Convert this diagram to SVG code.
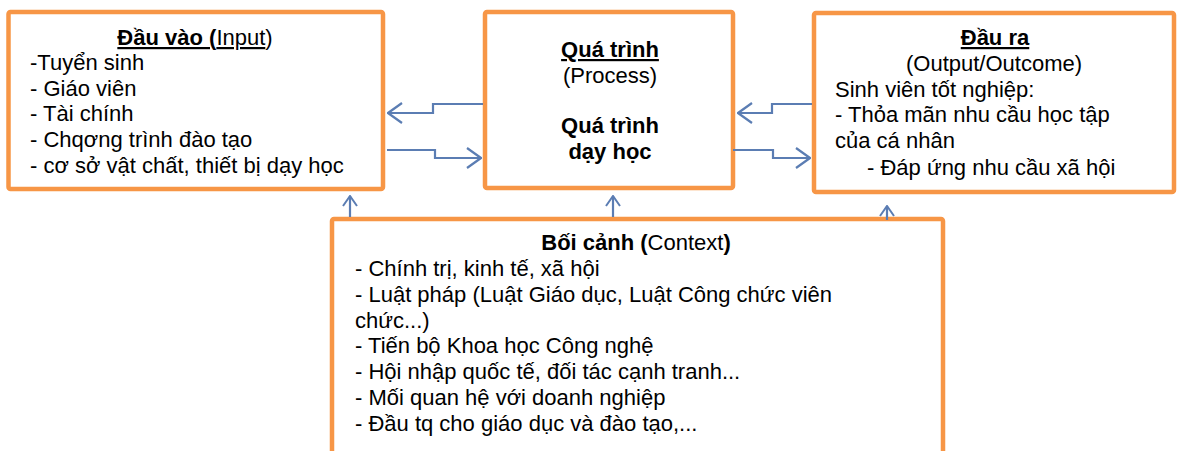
<svg xmlns="http://www.w3.org/2000/svg" width="1177" height="451" viewBox="0 0 1177 451">
<defs>
<style>
.box{fill:#fff;stroke:#F79646;stroke-width:4.5}
.t{font-family:"Liberation Sans",Arial,sans-serif;font-size:22px;fill:#000}
.b{font-weight:bold}
.u{text-decoration:underline}
.c{text-anchor:middle}
.con{fill:none;stroke:#5B7DB3;stroke-width:2.2}
</style>
<marker id="ah" viewBox="0 0 16 22" refX="15" refY="11" markerWidth="16" markerHeight="22" markerUnits="userSpaceOnUse" orient="auto">
<path d="M1,1 L15,11 L1,21" fill="none" stroke="#5B7DB3" stroke-width="2.2"/>
</marker>
<marker id="ahs" viewBox="0 0 12 16" refX="11" refY="8" markerWidth="12" markerHeight="16" markerUnits="userSpaceOnUse" orient="auto">
<path d="M1,1 L11,8 L1,15" fill="none" stroke="#5B7DB3" stroke-width="2"/>
</marker>
</defs>

<g id="input">
<rect class="box" x="8.5" y="12" width="374.5" height="177" rx="2"/>
<text class="t c" x="195" y="45"><tspan class="b u">Đầu vào (</tspan><tspan class="u">Input</tspan>)</text>
<text class="t" x="30" y="70">-Tuyển sinh</text>
<text class="t" x="30" y="96">- Giáo viên</text>
<text class="t" x="30" y="121">- Tài chính</text>
<text class="t" x="30" y="147">- Chqơng trình đào tạo</text>
<text class="t" x="30" y="173">- cơ sở vật chất, thiết bị dạy học</text>
</g>

<g id="process">
<rect class="box" x="485" y="12" width="248" height="176" rx="2"/>
<text class="t b u c" x="610" y="57">Quá trình</text>
<text class="t c" x="610" y="83">(Process)</text>
<text class="t b c" x="610" y="133">Quá trình</text>
<text class="t b c" x="610" y="159">dạy học</text>
</g>

<g id="output">
<rect class="box" x="814" y="13" width="360" height="179" rx="2"/>
<text class="t b u c" x="995" y="45">Đầu ra</text>
<text class="t c" x="994" y="71">(Output/Outcome)</text>
<text class="t" x="835" y="97">Sinh viên tốt nghiệp:</text>
<text class="t" x="835" y="122">- Thỏa mãn nhu cầu học tập</text>
<text class="t" x="835" y="148">của cá nhân</text>
<text class="t" x="867" y="175">- Đáp ứng nhu cầu xã hội</text>
</g>

<g id="context">
<rect class="box" x="332" y="219" width="611" height="260" rx="2"/>
<text class="t c" x="636" y="250"><tspan class="b">Bối cảnh (</tspan>Context<tspan class="b">)</tspan></text>
<text class="t" x="355" y="276">- Chính trị, kinh tế, xã hội</text>
<text class="t" x="355" y="302">- Luật pháp (Luật Giáo dục, Luật Công chức viên</text>
<text class="t" x="355" y="328">chức...)</text>
<text class="t" x="355" y="353">- Tiến bộ Khoa học Công nghệ</text>
<text class="t" x="355" y="379">- Hội nhập quốc tế, đối tác cạnh tranh...</text>
<text class="t" x="355" y="405">- Mối quan hệ với doanh nghiệp</text>
<text class="t" x="355" y="431">- Đầu tq cho giáo dục và đào tạo,...</text>
</g>

<g id="connectors">
<path class="con" d="M483,104 H433 V113 H388" marker-end="url(#ah)"/>
<path class="con" d="M387,150 H435 V158 H481" marker-end="url(#ah)"/>
<path class="con" d="M812,104 H772 V113 H738" marker-end="url(#ah)"/>
<path class="con" d="M733,150 H773 V158 H810" marker-end="url(#ah)"/>
<path class="con" d="M350,217 V196" marker-end="url(#ahs)"/>
<path class="con" d="M613,217 V196" marker-end="url(#ahs)"/>
<path class="con" d="M887,220 V206" marker-end="url(#ahs)"/>
</g>
</svg>
